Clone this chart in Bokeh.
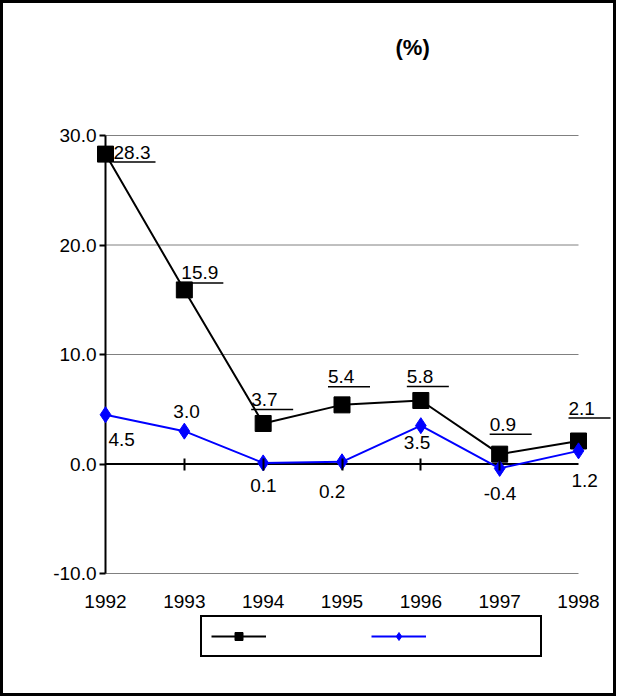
from bokeh.plotting import figure
from bokeh.models import (ColumnDataSource, LinearAxis, FixedTicker, Label, Legend,
                          LegendItem, CustomJSTickFormatter, Range1d)
from bokeh.core.properties import value
from bokeh.embed import file_html
from bokeh.resources import INLINE

years = [1992, 1993, 1994, 1995, 1996, 1997, 1998]
series_a = [28.3, 15.9, 3.7, 5.4, 5.8, 0.9, 2.1]
series_b = [4.5, 3.0, 0.1, 0.2, 3.5, -0.4, 1.2]
y_ticks = [-10, 0, 10, 20, 30]
grid_vals = [-10, 10, 20, 30]

FONT = "Liberation Sans"
FS = "19px"
W, H = 616, 696
PX_X = 473 / 6.0   # pixels per year
PX_Y = 438 / 40.0  # pixels per unit

p = figure(width=W, height=H, output_backend="svg", toolbar_location=None,
           x_range=Range1d(1992 - 105 / PX_X, 1998 + (W - 578) / PX_X),
           y_range=Range1d(-10 - (H - 573) / PX_Y, 30 + 135 / PX_Y),
           min_border=0)
p.outline_line_color = "black"
p.outline_line_width = 5
p.xaxis.visible = False
p.yaxis.visible = False
p.grid.visible = False

# gridlines
p.segment(x0=[years[0]] * 4, x1=[years[-1]] * 4, y0=grid_vals, y1=grid_vals,
          color="#808080", line_width=1)

# y axis
ya = LinearAxis(ticker=FixedTicker(ticks=y_ticks), fixed_location=years[0])
ya.formatter = CustomJSTickFormatter(code="return tick.toFixed(1);")
ya.axis_line_color = None
ya.major_tick_line_width = 2
ya.major_tick_out = 6
ya.major_tick_in = 0
ya.minor_tick_line_color = None
ya.major_label_text_font = FONT
ya.major_label_text_font_size = FS
ya.major_label_text_color = "black"
ya.major_label_standoff = 3
p.add_layout(ya, "left")
p.segment(x0=[years[0]], x1=[years[0]], y0=[y_ticks[0]], y1=[y_ticks[-1]],
          color="black", line_width=2)

# x labels at the bottom
xa = LinearAxis(ticker=FixedTicker(ticks=years), fixed_location=-10)
xa.axis_line_color = None
xa.major_tick_line_color = None
xa.minor_tick_line_color = None
xa.major_label_text_font = FONT
xa.major_label_text_font_size = FS
xa.major_label_text_color = "black"
xa.major_label_standoff = 15
p.add_layout(xa, "below")

# zero line with ticks
za = LinearAxis(ticker=FixedTicker(ticks=years[1:-1]), fixed_location=0)
za.axis_line_color = None
za.major_tick_line_width = 2
za.major_tick_in = 6
za.major_tick_out = 6
za.minor_tick_line_color = None
za.major_label_text_color = None
p.add_layout(za, "below")
p.segment(x0=[years[0]], x1=[years[-1]], y0=[0], y1=[0], color="black", line_width=2)

src = ColumnDataSource(dict(x=years, a=series_a, b=series_b))

la = p.line("x", "a", source=src, color="black", line_width=2)
ma = p.scatter("x", "a", source=src, marker="square", size=16, color="black")
lb = p.line("x", "b", source=src, color="blue", line_width=2)
mb = p.scatter("x", "b", source=src, marker="diamond", size=16, color="blue")

# labels for series a (underlined); offsets in screen px, + is down
a_dx = [8, -3, -12, -14, -14, -10, -10]
a_dy = [-2, -17, -24, -28, -24, -30, -33]
p.text(x=years, y=series_a, text=[f"{v:.1f}" for v in series_a], x_offset=a_dx,
       y_offset=a_dy, text_baseline="middle", text_align="left",
       text_font=value(FONT), text_font_size=FS, text_color="black")
ux0 = [x + dx / PX_X for x, dx in zip(years, a_dx)]
ux1 = [x + (dx + 42) / PX_X for x, dx in zip(years, a_dx)]
uy = [v - (d + 10) / PX_Y for v, d in zip(series_a, a_dy)]
p.segment(x0=ux0, x1=ux1, y0=uy, y1=uy, color="black", line_width=1.5)

# labels for series b
b_dx = [3, -11, -13, -23, -17, -16, -7]
b_dy = [25, -20, 23, 30, 17, 25, 30]
p.text(x=years, y=series_b, text=[f"{v:.1f}" for v in series_b], x_offset=b_dx,
       y_offset=b_dy, text_baseline="middle", text_align="left",
       text_font=value(FONT), text_font_size=FS, text_color="black")

p.add_layout(Label(x=395, y=H - 47, x_units="screen", y_units="screen",
                   text="(%)", text_font=FONT, text_font_style="bold",
                   text_color="black", text_font_size="22px", text_baseline="middle"))

legend = Legend(items=[LegendItem(label=" ", renderers=[la, ma]),
                       LegendItem(label=" ", renderers=[lb, mb])],
                location=(200, 39), orientation="horizontal",
                border_line_color="black", border_line_width=2, border_line_alpha=1,
                glyph_width=55, glyph_height=20, label_width=100, spacing=0,
                padding=9, margin=0, label_text_font_size="14px")
p.add_layout(legend, "center")

open("out.html", "w").write(file_html(p, INLINE))
